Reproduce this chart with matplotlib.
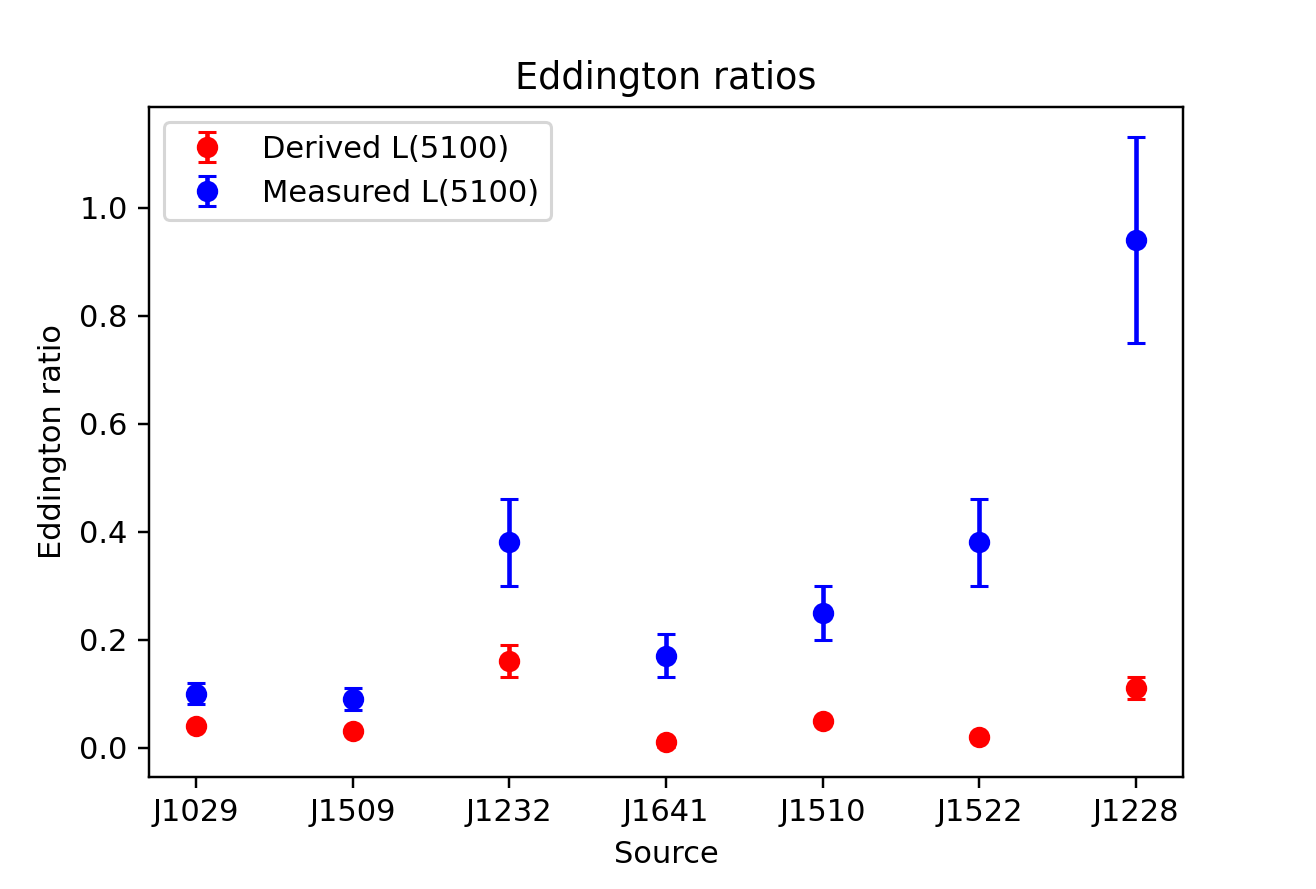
import matplotlib
matplotlib.use("Agg")
import matplotlib.pyplot as plt

sources = ["J1029", "J1509", "J1232", "J1641", "J1510", "J1522", "J1228"]
derived = [0.04, 0.03, 0.16, 0.01, 0.05, 0.02, 0.11]
derived_err = [0.005, 0.005, 0.03, 0.008, 0.005, 0.005, 0.02]
measured = [0.10, 0.09, 0.38, 0.17, 0.25, 0.38, 0.94]
measured_err = [0.02, 0.02, 0.08, 0.04, 0.05, 0.08, 0.19]

DPI = 220
fig = plt.figure(figsize=(1316/DPI, 889/DPI), dpi=DPI)
ax = fig.add_axes([149/1316, 1-777/889, (1183-149)/1316, (777-107)/889])
x = list(range(len(sources)))
ax.errorbar(x, derived, yerr=derived_err, fmt='o', color='red', capsize=3,
            label='Derived L(5100)')
ax.errorbar(x, measured, yerr=measured_err, fmt='o', color='blue', capsize=3,
            label='Measured L(5100)')
ax.set_xticks(x)
ax.set_xticklabels(sources)
ax.set_xlabel('Source')
ax.set_ylabel('Eddington ratio')
ax.set_title('Eddington ratios')
ax.legend(loc='upper left')
fig.savefig('out.png', dpi=DPI)
